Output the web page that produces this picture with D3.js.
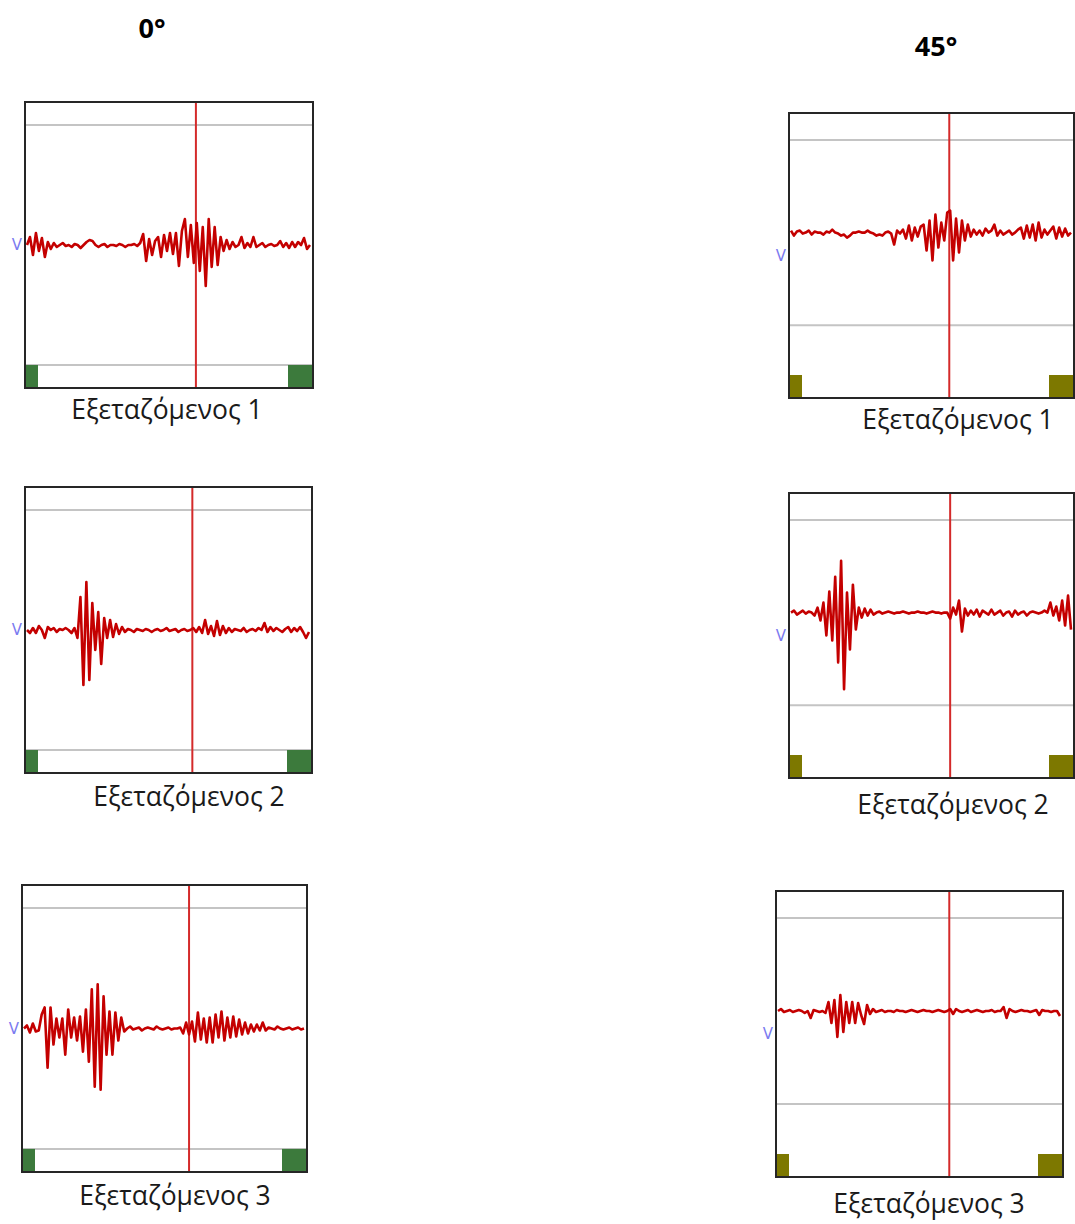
<!DOCTYPE html>
<html>
<head>
<meta charset="utf-8">
<script src="https://cdn.jsdelivr.net/npm/d3@7"></script>
<style>
  body { margin: 0; background: #fff; }
  svg { display: block; }
</style>
</head>
<body>
<svg id="chart" width="1075" height="1224"></svg>
<script>
// Electrode angle groups and subjects
const angles = ["0°", "45°"];
const subjects = ["Εξεταζόμενος 1", "Εξεταζόμενος 2", "Εξεταζόμενος 3"];

// EMG amplitude traces (a.u., positive = up), one sample per time step
const emg0_s1 = [0,8,-10,12,-6,7,-12,3,-4,2,-2,0,2,-1,0,-2,1,0,-3,0,3,5,4,0,-2,0,1,-2,0,0,-1,1,0,-2,0,0,1,-1,2,11,-16,6,-10,4,8,-12,10,-6,12,-9,12,-21,14,26,-12,20,-18,22,-26,18,-41,26,-22,18,-20,8,-6,5,-4,3,-2,0,8,-3,2,-2,8,-2,0,2,-2,0,1,-1,0,4,-2,2,-3,3,-2,3,0,7,-4,0];
const emg0_s2 = [0,-3,2,-3,4,0,-8,3,0,2,-2,1,0,2,0,-3,2,-8,33,-55,48,-50,27,-20,18,-34,12,-8,10,-7,6,-4,3,-2,1,0,-2,1,0,-1,1,0,-2,0,1,-1,0,2,-1,0,1,-2,0,1,-1,0,2,-2,3,-3,10,-4,4,-6,9,-5,4,-3,2,-2,1,0,-1,2,-2,0,1,-1,2,0,7,-2,3,-1,2,0,-2,1,3,-2,2,-1,3,-2,-8,-2];
const emg0_s3 = [0,3,-4,5,-3,-2,14,21,-39,21,-16,10,-9,10,-26,19,-9,11,-12,12,-23,19,-33,39,-58,44,-61,32,-26,17,-26,16,-12,11,-3,0,2,-1,0,1,-2,0,1,0,-1,2,0,-1,0,1,-1,0,0,1,-5,6,-6,7,-13,16,-11,10,-14,11,-14,14,-9,17,-12,11,-9,12,-8,9,-6,6,-5,4,-3,4,-2,6,-2,1,0,-1,2,0,-1,0,1,-1,0,1,-1,0];
const emg45_s1 = [2,-3,1,2,-1,0,2,-2,1,0,0,-2,1,0,3,0,-1,-3,-2,-5,-3,0,0,1,0,0,2,0,-1,-3,-2,-3,0,1,-1,-12,2,-1,3,-6,7,-8,5,-4,6,8,-18,12,-28,18,-15,10,-8,20,22,-28,14,-20,12,-8,8,-4,3,-2,2,-3,4,0,2,8,-3,2,-2,0,2,-2,0,3,5,-6,7,-5,8,-8,10,-5,3,-2,2,6,-6,5,-4,4,-3,0];
const emg45_s2 = [0,2,-2,0,2,-1,1,0,-3,5,-8,10,-23,21,-28,36,-50,52,-77,20,-37,28,-17,5,-5,4,-3,3,-2,0,1,-1,0,1,0,-1,0,0,1,0,-1,0,0,1,0,0,-1,0,1,0,0,-1,0,0,-6,5,-2,12,-19,4,-3,2,-2,3,-4,2,0,-2,3,-2,0,2,-3,0,1,-4,2,-2,0,1,-3,0,1,0,-1,0,2,0,10,-3,6,-8,12,-13,17,-17];
const emg45_s3 = [0,2,-1,0,1,-1,0,1,0,-2,0,-7,1,0,-1,0,-2,9,-12,11,-26,16,-21,9,-12,9,-12,8,-4,-13,6,-3,2,-1,0,1,-1,0,0,-1,1,0,0,-1,0,1,0,-1,0,1,0,0,-1,0,1,0,-1,0,2,-3,2,0,-1,0,1,-1,0,1,0,-1,0,0,1,-1,0,0,4,-7,2,0,-1,0,1,0,0,-1,0,1,-4,1,0,0,-1,0,0,-5];

// Cursor position (sample index) for each recording
const cursor0 = [56.7, 55.7, 56];
const cursor45 = [53.7, 54, 57.7];

// Reference (threshold) levels and full-scale range for each angle group
const refLevel = { "0°": 120, "45°": 93 };
const yRange = { "0°": [-143, 143], "45°": [-166, 120] };

const traces = { "0°": [emg0_s1, emg0_s2, emg0_s3], "45°": [emg45_s1, emg45_s2, emg45_s3] };
const cursors = { "0°": cursor0, "45°": cursor45 };

// Panel placement on the page
const layout = {
  "0°": {
    title: { x: 152, y: 38 },
    boxColor: "#3c7a3c", vAtZero: true,
    frames: [
      { x: 25, y: 102, w: 288, h: 286, cap: [167, 419] },
      { x: 25, y: 487, w: 287, h: 286, cap: [189, 806] },
      { x: 22, y: 885, w: 285, h: 287, cap: [175, 1205] }
    ]
  },
  "45°": {
    title: { x: 936, y: 56 },
    boxColor: "#7d7800", vAtZero: false,
    frames: [
      { x: 789, y: 113, w: 285, h: 285, cap: [958, 429] },
      { x: 789, y: 493, w: 285, h: 285, cap: [953, 814] },
      { x: 776, y: 891, w: 287, h: 286, cap: [929, 1213] }
    ]
  }
};

const svg = d3.select("#chart");
const captionFont = "'Open Sans', 'Noto Sans', sans-serif";

angles.forEach(angle => {
  const L = layout[angle];
  svg.append("text")
    .attr("x", L.title.x).attr("y", L.title.y)
    .attr("text-anchor", "middle")
    .attr("font-family", captionFont)
    .attr("font-weight", 700)
    .attr("font-size", 27)
    .attr("fill", "#000")
    .text(angle);

  subjects.forEach((subject, k) => {
    const f = L.frames[k];
    const data = traces[angle][k];
    const g = svg.append("g");

    const x = d3.scaleLinear().domain([0, data.length - 1]).range([f.x + 2, f.x + f.w - 3]);
    const y = d3.scaleLinear().domain(yRange[angle]).range([f.y + f.h, f.y]);

    g.append("rect").attr("x", f.x).attr("y", f.y).attr("width", f.w).attr("height", f.h)
      .attr("fill", "#fff");

    // threshold reference lines
    const refs = [refLevel[angle], -refLevel[angle]];
    g.selectAll("line.ref").data(refs).join("line")
      .attr("class", "ref")
      .attr("x1", f.x).attr("x2", f.x + f.w)
      .attr("y1", d => y(d)).attr("y2", d => y(d))
      .attr("stroke", "#c4c4c4").attr("stroke-width", 2);

    // marker blocks at the bottom corners
    const pxPerUnit = f.h / (yRange[angle][1] - yRange[angle][0]);
    const low = angle === "0°" ? -refLevel[angle] : yRange[angle][0] + 23 / pxPerUnit;
    const blockTop = y(low);
    const blocks = [{ x0: f.x, w: 13 }, { x0: f.x + f.w - 25, w: 25 }];
    g.selectAll("rect.blk").data(blocks).join("rect")
      .attr("class", "blk")
      .attr("x", d => d.x0).attr("y", blockTop)
      .attr("width", d => d.w).attr("height", f.y + f.h - blockTop)
      .attr("fill", L.boxColor);

    // cursor
    g.append("line")
      .attr("x1", x(cursors[angle][k])).attr("x2", x(cursors[angle][k]))
      .attr("y1", f.y).attr("y2", f.y + f.h)
      .attr("stroke", "#d42a2a").attr("stroke-width", 2);

    // EMG trace
    const line = d3.line().x((d, i) => x(i)).y(d => y(d));
    g.append("path").datum(data)
      .attr("d", line)
      .attr("fill", "none")
      .attr("stroke", "#c40000")
      .attr("stroke-width", 2.6)
      .attr("stroke-linejoin", "round");

    // frame
    g.append("rect").attr("x", f.x).attr("y", f.y).attr("width", f.w).attr("height", f.h)
      .attr("fill", "none").attr("stroke", "#262626").attr("stroke-width", 2);

    // channel label
    g.append("text")
      .attr("x", f.x - 8)
      .attr("y", L.vAtZero ? y(0) : f.y + f.h / 2)
      .attr("dy", "0.35em")
      .attr("text-anchor", "middle")
      .attr("font-family", "'DejaVu Sans', sans-serif")
      .attr("font-size", 15)
      .attr("fill", "#7b7bf0")
      .text("V");

    // caption
    svg.append("text")
      .attr("x", f.cap[0]).attr("y", f.cap[1])
      .attr("text-anchor", "middle")
      .attr("font-family", captionFont)
      .attr("font-size", 26.5)
      .attr("fill", "#1a1a1a")
      .text(subject);
  });
});
</script>
</body>
</html>
